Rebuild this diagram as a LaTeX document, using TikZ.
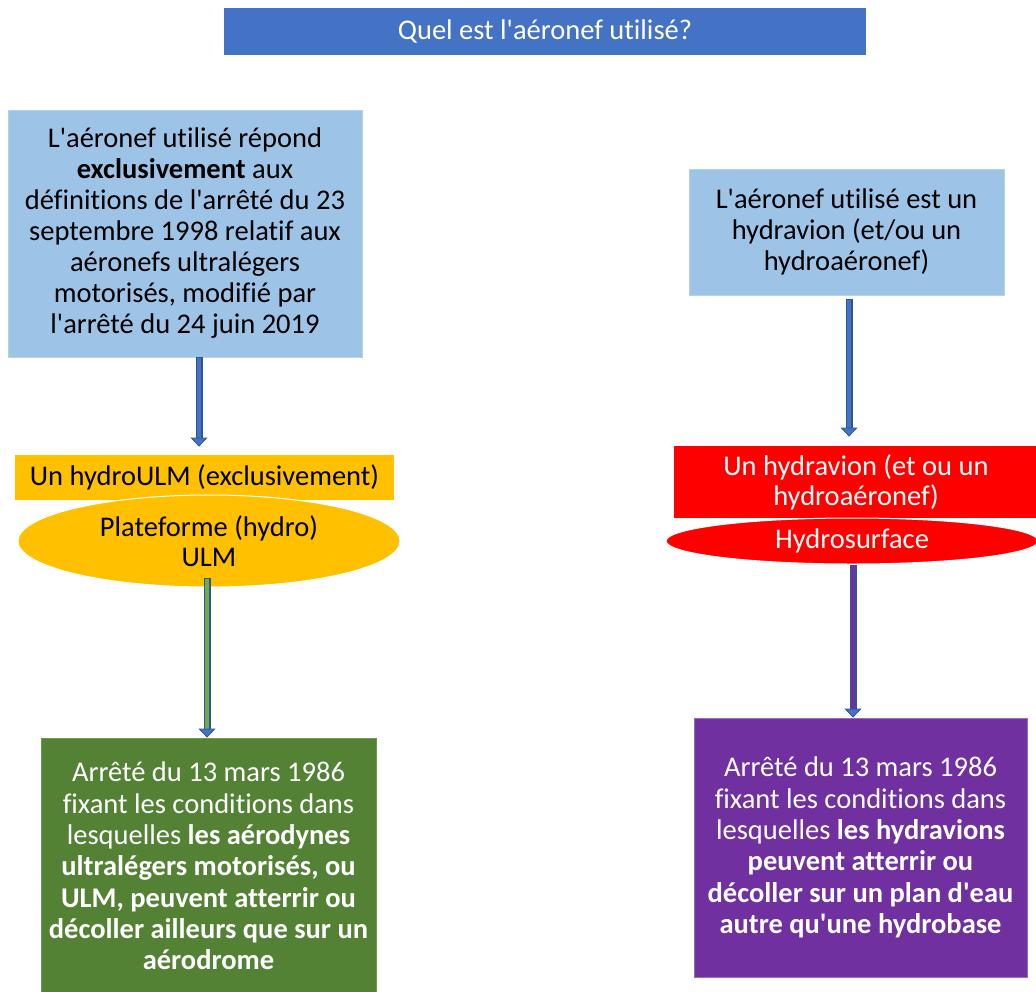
\documentclass[tikz,border=0pt]{standalone}
\usepackage{fontspec}
\setmainfont{Carlito}[Ligatures={TeXOff,NoCommon}]
\usetikzlibrary{shapes.geometric,arrows.meta,calc}

\definecolor{hdrblue}{HTML}{4472C4}
\definecolor{paleblue}{HTML}{9DC3E6}
\definecolor{paleedge}{HTML}{B4D2EE}
\definecolor{gold}{HTML}{FFC000}
\definecolor{vivred}{HTML}{FF0000}
\definecolor{leafgreen}{HTML}{548235}
\definecolor{greenedge}{HTML}{6E9A4C}
\definecolor{violet}{HTML}{7030A0}
\definecolor{violetedge}{HTML}{9A6CC0}
\definecolor{arrowedge}{HTML}{2F5597}
\definecolor{arrowfill}{HTML}{4472C4}
\definecolor{shaftgreen}{HTML}{70AD47}

\tikzset{
  box/.style={rectangle, inner sep=0pt, align=center, line width=0.8pt,
    font=\fontsize{28.5}{31.3}\selectfont},
  oval/.style={ellipse, inner sep=0pt, align=center,
    font=\fontsize{28.5}{30}\selectfont},
  shaftout/.style={draw=arrowedge, line width=7pt, shorten >=8pt},
  tipstyle/.style={draw=arrowedge, line width=0.8pt,
    -{Triangle[width=17pt,length=9pt,fill=arrowfill]}},
}

% block arrow: outlined shaft in a chosen colour, then a filled head
\newcommand\blockarrow[3]{%
  \draw[shaftout] (#1) -- (#2);
  \draw[#3, line width=3.6pt, shorten >=8pt, shorten <=1pt] (#1) -- (#2);
  \draw[tipstyle] ($(#2)+(0,-9)$) -- (#2);
}

\begin{document}
\begin{tikzpicture}[x=1pt, y=-1pt]
\useasboundingbox (0,0) rectangle (1036,991);

% title
\node[box, fill=hdrblue, text=white, minimum width=642, minimum height=47] (title) at (545,31.5)
  {Quel est l'aéronef utilisé?};

% left column
\node[box, fill=paleblue, draw=paleedge, minimum width=354, minimum height=247,
  font=\fontsize{28.5}{31}\selectfont] (ulmdef) at (185,233.5)
  {L'aéronef utilisé répond\\ \textbf{exclusivement} aux\\ définitions de l'arrêté du 23\\
   septembre 1998 relatif aux\\ aéronefs ultralégers\\ motorisés, modifié par\\ l'arrêté du 24 juin 2019};

\node[box, fill=gold, minimum width=379, minimum height=45] (ulm) at (204.5,477.5)
  {Un hydroULM (exclusivement)};

\node[oval, fill=gold, draw=white, line width=1pt, minimum width=382, minimum height=92] (ulmplat) at (209,541)
  {Plateforme (hydro)\\ ULM};

\node[box, fill=leafgreen, draw=greenedge, text=white, minimum width=335, minimum height=256] (ulmrule) at (208.5,866)
  {Arrêté du 13 mars 1986\\ fixant les conditions dans\\ lesquelles \textbf{les aérodynes}\\
   \textbf{ultralégers motorisés, ou}\\ \textbf{ULM, peuvent atterrir ou}\\
   \textbf{décoller ailleurs que sur un}\\ \textbf{aérodrome}};

% right column
\node[box, fill=paleblue, draw=paleedge, minimum width=315, minimum height=126] (hydef) at (846.5,232)
  {L'aéronef utilisé est un\\ hydravion (et/ou un\\ hydroaéronef)};

\node[box, fill=vivred, text=white, minimum width=364, minimum height=72,
  font=\fontsize{28.5}{30}\selectfont] (hyd) at (856,482)
  {Un hydravion (et ou un\\ hydroaéronef)};

\node[oval, fill=vivred, draw=white, line width=1pt, minimum width=372, minimum height=46,
  text=white] (hydsurf) at (852,541)
  {Hydrosurface};

\node[box, fill=violet, draw=violetedge, text=white, minimum width=333, minimum height=259] (hydrule) at (860.5,847.5)
  {Arrêté du 13 mars 1986\\ fixant les conditions dans\\ lesquelles \textbf{les hydravions}\\
   \textbf{peuvent atterrir ou}\\ \textbf{décoller sur un plan d'eau}\\ \textbf{autre qu'une hydrobase}};

% connectors
\coordinate (a1s) at ([xshift=14pt]ulmdef.south);
\coordinate (a1e) at ([xshift=-5.5pt, yshift=8pt]ulm.north);
\blockarrow{a1s}{a1e}{arrowfill}

\coordinate (a2s) at ([xshift=-2pt, yshift=10pt]ulmplat.south);
\coordinate (a2e) at ([xshift=-1.5pt]ulmrule.north);
\blockarrow{a2s}{a2e}{shaftgreen}

\coordinate (a3s) at ([xshift=2.5pt, yshift=-4pt]hydef.south);
\coordinate (a3e) at ([xshift=-7pt, yshift=9pt]hyd.north);
\blockarrow{a3s}{a3e}{arrowfill}

\coordinate (a4s) at ([xshift=1pt]hydsurf.south);
\coordinate (a4e) at ([xshift=-7.5pt]hydrule.north);
\blockarrow{a4s}{a4e}{violet}

\end{tikzpicture}
\end{document}
